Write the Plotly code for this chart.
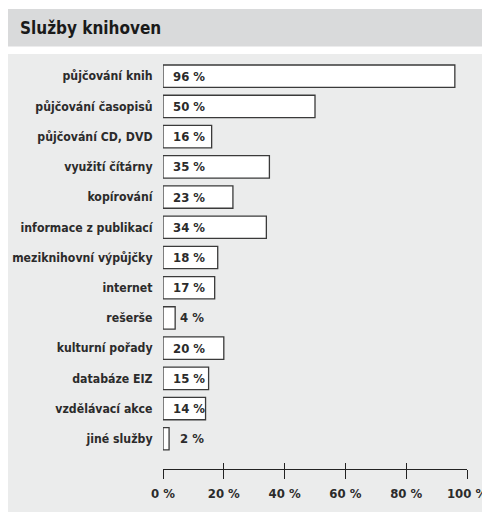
import plotly.graph_objects as go

categories = ["půjčování knih", "půjčování časopisů", "půjčování CD, DVD", "využití čítárny",
              "kopírování", "informace z publikací", "meziknihovní výpůjčky", "internet",
              "rešerše", "kulturní pořady", "databáze EIZ", "vzdělávací akce", "jiné služby"]
values = [96, 50, 16, 35, 23, 34, 18, 17, 4, 20, 15, 14, 2]
tick_vals = [0, 20, 40, 60, 80, 100]
tick_text = ["0 %", "20 %", "40 %", "60 %", "80 %", "100 %"]
title = "Služby knihoven"

OFF = 8  # default page body margin
W, H = 490 - OFF, 512 - OFF
L, R, T, B = 163 - OFF, 23, 62 - OFF, 43
pw, ph = W - L - R, H - T - B

FONT = "DejaVu Sans Condensed"
DARK = "#2b2b2b"

fig = go.Figure()
fig.add_trace(go.Bar(
    y=categories, x=values, orientation="h", width=0.74,
    marker=dict(color="white", line=dict(color="#3a3a3a", width=1.3)),
    hoverinfo="skip", showlegend=False,
))

annotations = []
for c, v in zip(categories, values):
    annotations.append(dict(
        x=0, y=c, xref="x", yref="y", text=f"{v} %", showarrow=False,
        xanchor="left", yanchor="middle", xshift=(8 if v >= 10 else 15),
        font=dict(family=FONT, size=13, color=DARK, weight="bold"),
    ))


def px_x(p):
    return (p - OFF - L) / pw


def px_y(p):
    return (H - B - (p - OFF)) / ph


annotations.append(dict(
    x=px_x(18), y=px_y(28), xref="paper", yref="paper", text=f"<b>{title}</b>",
    showarrow=False, xanchor="left", yanchor="middle",
    font=dict(family=FONT, size=17, color="#1a1a1a"),
))

shapes = [
    dict(type="rect", xref="paper", yref="paper", x0=px_x(7), x1=px_x(495),
         y0=px_y(46.5), y1=px_y(9), fillcolor="#d9dadb", line=dict(width=0), layer="below"),
    dict(type="rect", xref="paper", yref="paper", x0=px_x(7), x1=px_x(495),
         y0=px_y(517), y1=px_y(54), fillcolor="#ebecec", line=dict(width=0), layer="below"),
]

fig.update_layout(
    width=W, height=H, margin=dict(l=L, r=R, t=T, b=B, autoexpand=False),
    paper_bgcolor="white", plot_bgcolor="rgba(0,0,0,0)",
    annotations=annotations, shapes=shapes,
    xaxis=dict(range=[0, 100], tickvals=tick_vals, ticktext=tick_text, showgrid=False,
               zeroline=False, showline=True, linecolor="#222", linewidth=1.2,
               ticks="outside", ticklen=9, tickwidth=1.2, tickcolor="#222",
               ticklabelstandoff=3, automargin=False,
               tickfont=dict(family=FONT, size=13, color=DARK, weight="bold")),
    xaxis2=dict(range=[0, 100], overlaying="x", anchor="y", side="bottom",
                tickvals=tick_vals, showticklabels=False, showgrid=False, zeroline=False,
                ticks="inside", ticklen=6, tickwidth=1.2, tickcolor="#222", showline=False,
                automargin=False),
    yaxis=dict(type="category", categoryorder="array", categoryarray=categories,
               range=[13.0, -0.47], showgrid=False, zeroline=False, showline=False,
               ticks="outside", ticklen=7, tickcolor="rgba(0,0,0,0)", automargin=False,
               tickfont=dict(family=FONT, size=12.2, color=DARK, weight="bold")),
)
fig.add_trace(go.Scatter(x=[0], y=[categories[0]], xaxis="x2", mode="markers",
                         marker=dict(opacity=0), showlegend=False, hoverinfo="skip"))

fig.write_html("out.html")
